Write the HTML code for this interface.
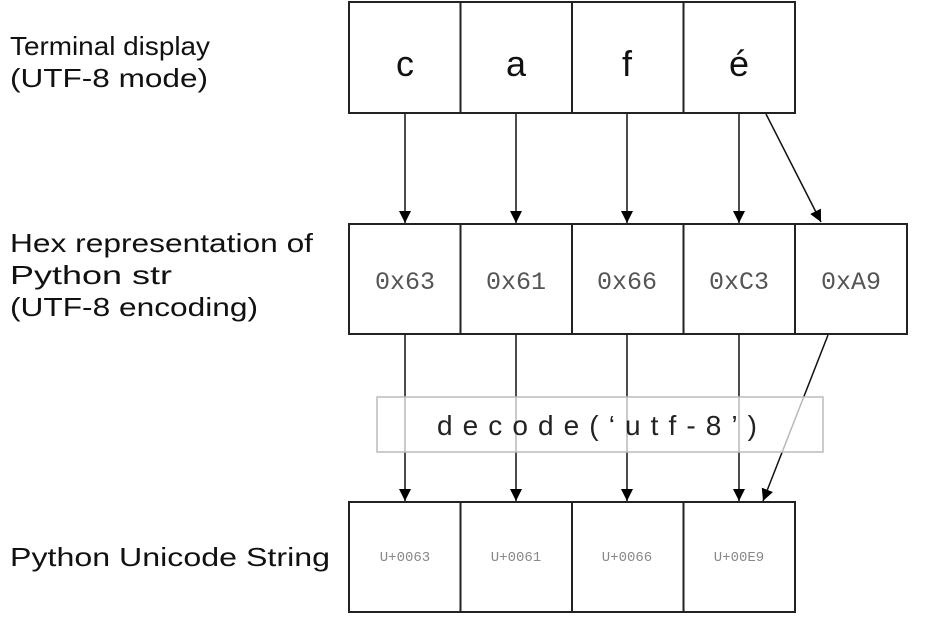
<!DOCTYPE html>
<html><head><meta charset="utf-8"><style>
html,body{margin:0;padding:0;background:#fff;}
svg{display:block;}
</style></head><body>
<svg width="952" height="630" viewBox="0 0 952 630" xmlns="http://www.w3.org/2000/svg">
<defs>
<marker id="ah" markerWidth="12" markerHeight="16" refX="12" refY="8" orient="auto" markerUnits="userSpaceOnUse">
<path d="M0,2 L12,8 L0,14 Z" fill="#000"/>
</marker>
</defs>
<g font-family="Liberation Sans, sans-serif" font-size="26" fill="#111" lengthAdjust="spacingAndGlyphs">
<text x="10" y="55" textLength="200" lengthAdjust="spacingAndGlyphs">Terminal display</text>
<text x="10" y="87" textLength="198" lengthAdjust="spacingAndGlyphs">(UTF-8 mode)</text>
<text x="10" y="252" textLength="303" lengthAdjust="spacingAndGlyphs">Hex representation of</text>
<text x="10" y="284" textLength="162" lengthAdjust="spacingAndGlyphs">Python str</text>
<text x="10" y="316" textLength="248" lengthAdjust="spacingAndGlyphs">(UTF-8 encoding)</text>
<text x="10" y="566" textLength="320" lengthAdjust="spacingAndGlyphs">Python Unicode String</text>
</g>
<g stroke="#222" stroke-width="2" fill="none">
<rect x="349" y="2" width="446" height="111"/>
<line x1="460.5" y1="2" x2="460.5" y2="113"/>
<line x1="572" y1="2" x2="572" y2="113"/>
<line x1="683.5" y1="2" x2="683.5" y2="113"/>
<rect x="349" y="224" width="558" height="110"/>
<line x1="460.5" y1="224" x2="460.5" y2="334"/>
<line x1="572" y1="224" x2="572" y2="334"/>
<line x1="683.5" y1="224" x2="683.5" y2="334"/>
<line x1="795" y1="224" x2="795" y2="334"/>
<rect x="349" y="502" width="446" height="110"/>
<line x1="460.5" y1="502" x2="460.5" y2="612"/>
<line x1="572" y1="502" x2="572" y2="612"/>
<line x1="683.5" y1="502" x2="683.5" y2="612"/>
</g>
<g font-family="Liberation Sans, sans-serif" font-size="36" fill="#111" text-anchor="middle">
<text x="405" y="76">c</text>
<text x="516" y="76">a</text>
<text x="627" y="76">f</text>
<text x="739" y="76">é</text>
</g>
<g font-family="Liberation Mono, monospace" font-size="25" fill="#555" text-anchor="middle">
<text x="405" y="289">0x63</text>
<text x="516" y="289">0x61</text>
<text x="627" y="289">0x66</text>
<text x="739" y="289">0xC3</text>
<text x="851" y="289">0xA9</text>
</g>
<g font-family="Liberation Mono, monospace" font-size="14" fill="#888" text-anchor="middle">
<text x="405" y="561">U+0063</text>
<text x="516" y="561">U+0061</text>
<text x="627" y="561">U+0066</text>
<text x="739" y="561">U+00E9</text>
</g>
<g stroke="#111" stroke-width="1.5" marker-end="url(#ah)">
<line x1="405" y1="114" x2="405" y2="223"/>
<line x1="516" y1="114" x2="516" y2="223"/>
<line x1="627" y1="114" x2="627" y2="223"/>
<line x1="739" y1="114" x2="739" y2="223"/>
<line x1="766" y1="114" x2="821" y2="222"/>
<line x1="405" y1="335" x2="405" y2="501"/>
<line x1="516" y1="335" x2="516" y2="501"/>
<line x1="627" y1="335" x2="627" y2="501"/>
<line x1="739" y1="335" x2="739" y2="501"/>
<line x1="828" y1="335" x2="763" y2="501"/>
</g>
<rect x="377" y="397" width="446" height="55" fill="#fff" fill-opacity="0.7" stroke="#bbb" stroke-width="1.5"/>
<text x="437" y="435" font-family="Liberation Sans, sans-serif" font-size="28" fill="#222" textLength="320" lengthAdjust="spacing">decode(‘utf-8’)</text>
</svg>
</body></html>
